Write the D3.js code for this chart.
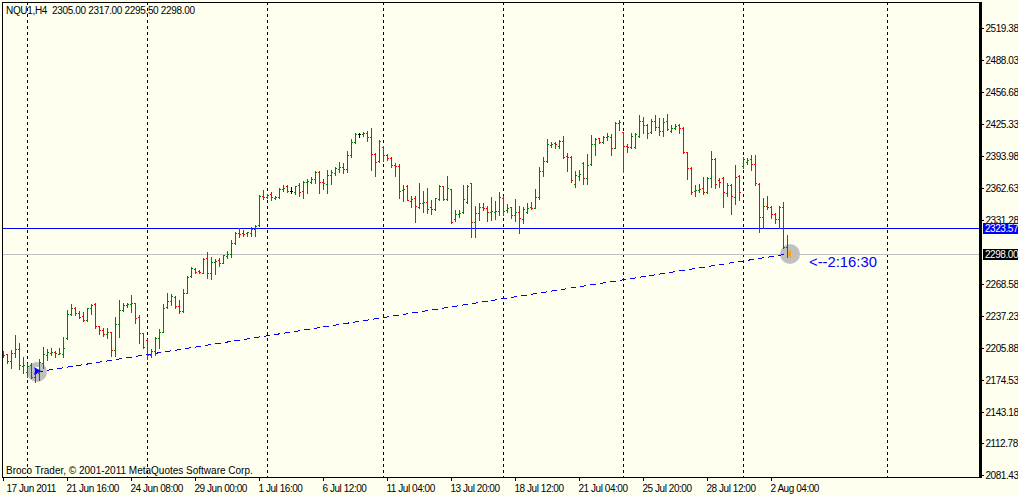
<!DOCTYPE html>
<html>
<head>
<meta charset="utf-8">
<script src="https://cdn.jsdelivr.net/npm/d3@7"></script>
<style>
  html, body { margin: 0; padding: 0; background: #fffff0; overflow: hidden; }
  svg { display: block; }
  text { font-family: "Liberation Sans", sans-serif; font-size: 10px; fill: #000; }
  .y-axis text, .x-axis text, .tag { letter-spacing: -0.45px; }
  .title { letter-spacing: -0.33px; white-space: pre; }
</style>
</head>
<body>
<div id="chart"></div>
<script>
///////////////////////////////// Data /////////////////////////////////
var symbolTitle = "NQU1,H4  2305.00 2317.00 2295.50 2298.00"
var copyright = "Broco Trader, \u00A9 2001-2011 MetaQuotes Software Corp."
var countdown = "<--2:16:30"

var opens = [
  2200,2200,2193.1,2201,2204.9,2188.2,2182.4,2189.2,2177.5,2181.4,
  2191.2,2199,2201,2202,2200,2200,2215.7,2239.2,2245.1,2240.2,
  2237.2,2233.3,2245.1,2249,2227.4,2223.5,2219.6,2221.6,2203.9,2229.4,
  2243.1,2248,2249,2250,2236.3,2220.6,2213.7,2199,2202.9,2215.7,
  2221.6,2246.1,2251.9,2255.9,2247,2242.1,2259.8,2276.4,2283.3,2281.3,
  2279.4,2294.1,2279.4,2290.2,2292.1,2289.2,2296,2298,2308.8,2318.6,
  2318.6,2318.6,2318.6,2322.5,2326.4,2354.8,2353.9,2356.8,2352.9,2353.9,
  2361.7,2364.6,2359.7,2358.8,2365.6,2359.7,2368.6,2368.6,2371.5,2378.4,
  2368.6,2366.6,2375.4,2377.4,2381.3,2383.3,2381.3,2395,2407.8,2415.6,
  2415.6,2416.6,2412.7,2396,2389.1,2402.9,2395,2392.1,2385.2,2384.2,
  2360.7,2364.6,2349.9,2352.9,2344.1,2348,2349,2344.1,2342.1,2351.9,
  2364.6,2351.9,2361.7,2332.3,2337.2,2339.2,2349,2367.6,2329.4,2338.2,
  2344.1,2343.1,2339.2,2339.2,2340.1,2352.9,2341.1,2344.1,2336.2,2339.2,
  2332.3,2339.2,2344.1,2343.1,2353.9,2379.3,2389.1,2404.8,2406.8,2403.8,
  2408.7,2394,2393.1,2366.6,2374.4,2387.2,2372.5,2386.2,2405.8,2411.7,
  2407.8,2412.7,2412.7,2401.9,2426.4,2417.6,2403.8,2402.9,2402.9,2413.6,
  2428.3,2424.4,2417.6,2428.3,2422.5,2418.5,2428.3,2418.5,2421.5,2424.4,
  2421.5,2398,2382.3,2359.7,2360.7,2362.7,2358.8,2372.5,2391.1,2370.5,
  2372.5,2357.8,2365.6,2353.9,2374.4,2384.2,2388.2,2391.1,2386.2,2366.6,
  2334.3,2345,2344.1,2337.2,2332.3,2344.1,2305
]
var highs = [
  2202.9,2200,2203.9,2218.6,2210.8,2197.1,2191.2,2191.2,2186.3,2195.1,
  2206.8,2204.9,2205.9,2202.9,2205.9,2216.7,2243.1,2249,2246.1,2242.1,
  2241.2,2245.1,2249,2250,2227.4,2225.5,2225.5,2221.6,2236.3,2252.9,
  2250,2250,2257.8,2250,2238.2,2220.6,2214.7,2204.9,2216.7,2224.5,
  2249,2259.8,2258.8,2256.8,2252.9,2263.7,2276.4,2285.3,2284.3,2282.3,
  2294.1,2299.9,2295.1,2293.1,2294.1,2297,2300.9,2311.7,2319.5,2323.5,
  2321.5,2319.5,2324.4,2326.4,2355.8,2360.7,2356.8,2358.8,2354.8,2362.7,
  2365.6,2365.6,2363.7,2364.6,2367.6,2369.5,2371.5,2373.5,2379.3,2379.3,
  2371.5,2380.3,2380.3,2383.3,2388.2,2387.2,2398.9,2410.7,2416.6,2416.6,
  2417.6,2418.5,2421.5,2397,2409.7,2403.8,2396,2393.1,2387.2,2386.2,
  2365.6,2365.6,2354.8,2354.8,2367.6,2359.7,2362.7,2350.9,2352.9,2365.6,
  2364.6,2374.4,2361.7,2341.1,2341.1,2365.6,2365.6,2367.6,2345,2348,
  2348,2345,2353.9,2349.9,2358.8,2354.8,2347,2344.1,2351.9,2345,
  2344.1,2348,2349,2361.7,2383.3,2393.1,2410.7,2407.8,2407.8,2409.7,
  2413.6,2397,2394,2379.3,2380.3,2388.2,2396,2414.6,2411.7,2411.7,
  2413.6,2416.6,2415.6,2427.4,2429.3,2417.6,2405.8,2416.6,2416.6,2434.2,
  2432.2,2425.4,2430.3,2434.2,2431.3,2431.3,2435.2,2424.4,2425.4,2425.4,
  2422.5,2398,2383.3,2365.6,2366.6,2373.5,2373.5,2398.9,2392.1,2372.5,
  2373.5,2367.6,2366.6,2385.2,2375.4,2393.1,2392.1,2395,2395,2367.6,
  2352.9,2354.8,2345,2338.2,2345,2349,2317
]
var lows = [
  2197.1,2191.2,2186.3,2197.1,2185.3,2181.4,2177.5,2176.5,2172.6,2174.5,
  2186.3,2194.1,2199,2197.1,2200,2197.1,2214.7,2238.2,2238.2,2235.3,
  2232.3,2232.3,2239.2,2225.5,2219.6,2217.6,2215.7,2198,2198,2216.7,
  2242.1,2246.1,2241.2,2230.4,2210.8,2205.9,2195.1,2197.1,2199,2205.9,
  2221.6,2245.1,2248,2245.1,2240.2,2241.2,2259.8,2275.5,2279.4,2279.4,
  2279.4,2274.5,2273.5,2278.4,2286.2,2289.2,2294.1,2295.1,2307.8,2314.6,
  2315.6,2315.6,2315.6,2315.6,2325.4,2351.9,2352.9,2350.9,2351.9,2352.9,
  2359.7,2358.8,2357.8,2356.8,2354.8,2352.9,2357.8,2367.6,2367.6,2357.8,
  2361.7,2357.8,2366.6,2375.4,2378.4,2377.4,2378.4,2393.1,2406.8,2412.7,
  2413.6,2408.7,2380.3,2374.4,2388.2,2389.1,2390.1,2383.3,2374.4,2352.9,
  2349.9,2350.9,2344.1,2329.4,2343.1,2339.2,2338.2,2337.2,2341.1,2350.9,
  2350.9,2350.9,2328.4,2330.3,2334.3,2338.2,2348,2314.6,2314.6,2331.3,
  2341.1,2330.3,2331.3,2332.3,2336.2,2336.2,2339.2,2333.3,2330.3,2318.6,
  2328.4,2338.2,2342.1,2343.1,2351.9,2374.4,2388.2,2402.9,2401.9,2401.9,
  2392.1,2379.3,2368.6,2363.7,2370.5,2366.6,2366.6,2385.2,2395,2406.8,
  2406.8,2409.7,2395,2401.9,2419.5,2378.4,2398,2401.9,2401.9,2412.7,
  2416.6,2411.7,2416.6,2419.5,2414.6,2413.6,2419.5,2417.6,2420.5,2416.6,
  2397,2371.5,2356.8,2354.8,2358.8,2356.8,2357.8,2363.7,2362.7,2363.7,
  2344.1,2354.8,2337.2,2347,2350.9,2382.3,2386.2,2380.3,2365.6,2319.5,
  2323.5,2342.1,2333.3,2328.4,2323.5,2303.9,2295.5
]
var closes = [
  2199,2193.1,2201,2204.9,2189.2,2189.2,2188.2,2177.5,2181.4,2192.2,
  2200,2202,2202,2201,2201,2205.9,2239.2,2245.1,2240.2,2236.3,
  2233.3,2245.1,2248,2227.4,2223.5,2219.6,2221.6,2203.9,2229.4,2243.1,
  2248,2249,2250,2235.3,2220.6,2206.8,2199,2202.9,2215.7,2221.6,
  2245.1,2251.9,2256.8,2247,2242.1,2259.8,2275.5,2284.3,2280.4,2280.4,
  2293.1,2279.4,2290.2,2291.1,2289.2,2297,2298,2308.8,2318.6,2317.6,
  2317.6,2319.5,2322.5,2325.4,2354.8,2353.9,2355.8,2353.9,2353.9,2361.7,
  2362.7,2359.7,2359.7,2364.6,2358.8,2368.6,2369.5,2371.5,2378.4,2368.6,
  2367.6,2375.4,2378.4,2382.3,2383.3,2381.3,2395,2407.8,2415.6,2415.6,
  2416.6,2412.7,2396,2388.2,2408.7,2395,2392.1,2385.2,2384.2,2359.7,
  2361.7,2350.9,2351.9,2345,2348,2349,2342.1,2342.1,2352.9,2364.6,
  2351.9,2362.7,2329.4,2337.2,2338.2,2351.9,2364.6,2329.4,2338.2,2344.1,
  2343.1,2339.2,2340.1,2340.1,2353.9,2340.1,2343.1,2336.2,2339.2,2333.3,
  2342.1,2343.1,2343.1,2353.9,2379.3,2389.1,2405.8,2405.8,2405.8,2408.7,
  2393.1,2393.1,2370.5,2375.4,2376.4,2372.5,2385.2,2405.8,2410.7,2407.8,
  2412.7,2413.6,2401.9,2426.4,2427.4,2403.8,2402.9,2413.6,2415.6,2428.3,
  2424.4,2416.6,2428.3,2422.5,2418.5,2427.4,2420.5,2421.5,2423.4,2421.5,
  2398,2382.3,2358.8,2360.7,2361.7,2358.8,2372.5,2391.1,2366.6,2368.6,
  2358.8,2365.6,2354.8,2373.5,2358.8,2391.1,2390.1,2386.2,2367.6,2334.3,
  2345,2344.1,2337.2,2332.3,2344.1,2304.8,2298
]

var timeLabels = ["17 Jun 2011","21 Jun 16:00","24 Jun 08:00","29 Jun 00:00","1 Jul 16:00","6 Jul 12:00",
  "11 Jul 04:00","13 Jul 20:00","18 Jul 12:00","21 Jul 04:00","25 Jul 20:00","28 Jul 12:00","2 Aug 04:00"]
var timeTickBars = [0,16,32,48,64,80,96,112,128,144,160,176,192]
// 2299.93 is left out, the 2298.00 tag covers it in the picture
var priceTicks = [2519.38,2488.03,2456.68,2425.33,2393.98,2362.63,2331.28,2268.58,2237.23,2205.88,2174.53,2143.18,2112.78,2081.43]
var weekBars = [6,36,66,95,125,155,185,221]   // period separators, bar 221 is in the future
var supportPrice = 2323.57
var lastPrice = 2298
var trendBars = [8.5,196.25]
var trendPrices = [2182.4,2298]

///////////////////////////////// Setup /////////////////////////////////
var width = 1018, height = 495
var plot = { left: 2, top: 2, right: 980, bottom: 477 }
var BLUE = "#0000ff"

var xScale = d3.scaleLinear().domain([0, 196]).range([3, 787])
var yScale = d3.scaleLinear().domain([2081.43, 2519.38]).range([475, 28])

var svg = d3.select("#chart").append("svg")
  .attr("width", width)
  .attr("height", height)

// draw order: separators, discs, lines and bars, arrows, frame, texts
var sepG = svg.append("g").attr("shape-rendering", "crispEdges")
var discG = svg.append("g")
var crisp = svg.append("g").attr("shape-rendering", "crispEdges")

sepG.selectAll(".sep").data(weekBars).enter().append("line")
  .attr("class", "sep")
  .attr("x1", d => xScale(d) + 0.5).attr("x2", d => xScale(d) + 0.5)
  .attr("y1", plot.top).attr("y2", plot.bottom)
  .attr("stroke", "#000")
  .attr("stroke-dasharray", "3,3")

discG.append("circle")
  .attr("cx", xScale(trendBars[0])).attr("cy", yScale(trendPrices[0]))
  .attr("r", 10).attr("fill", "#c0c0c0")
discG.append("circle")
  .attr("cx", xScale(trendBars[1]) + 2).attr("cy", yScale(trendPrices[1]))
  .attr("r", 10).attr("fill", "#c0c0c0")

// horizontal lines
crisp.append("line")
  .attr("x1", plot.left).attr("x2", plot.right)
  .attr("y1", Math.round(yScale(lastPrice)) + 0.5).attr("y2", Math.round(yScale(lastPrice)) + 0.5)
  .attr("stroke", "#c0c0c0")
crisp.append("line")
  .attr("x1", plot.left).attr("x2", plot.right)
  .attr("y1", Math.round(yScale(supportPrice)) + 0.5).attr("y2", Math.round(yScale(supportPrice)) + 0.5)
  .attr("stroke", BLUE)

// trend line between the two markers
crisp.append("line")
  .attr("x1", xScale(trendBars[0])).attr("y1", yScale(trendPrices[0]))
  .attr("x2", xScale(trendBars[1])).attr("y2", yScale(trendPrices[1]))
  .attr("stroke", BLUE)
  .attr("stroke-dasharray", "6,4")

//////////////////// OHLC bars ///////////////////
var bars = d3.range(opens.length).map(i => ({
  i: i, o: opens[i], h: highs[i], l: lows[i], c: closes[i],
  color: closes[i] > opens[i] ? "#008000" : closes[i] < opens[i] ? "#ff0000" : "#000"
}))

function py(v) { return Math.round(yScale(v)) + 0.5 }

var barG = crisp.selectAll(".bar").data(bars).enter().append("g")
  .attr("class", "bar")
  .attr("stroke", d => d.color)
barG.append("line")
  .attr("x1", d => xScale(d.i) + 0.5).attr("x2", d => xScale(d.i) + 0.5)
  .attr("y1", d => py(d.h) - 0.5).attr("y2", d => py(d.l) + 0.5)
barG.append("line")
  .attr("x1", d => xScale(d.i) - 1).attr("x2", d => xScale(d.i))
  .attr("y1", d => py(d.o)).attr("y2", d => py(d.o))
barG.append("line")
  .attr("x1", d => xScale(d.i) + 1).attr("x2", d => xScale(d.i) + 2)
  .attr("y1", d => py(d.c)).attr("y2", d => py(d.c))

//////////////////// start and end arrows ///////////////////
var ax = xScale(trendBars[0]), ay = yScale(trendPrices[0])
svg.append("rect").attr("x", ax - 3).attr("y", ay - 5).attr("width", 5).attr("height", 3).attr("fill", "#fff")
svg.append("path")
  .attr("d", "M" + (ax - 3) + "," + (ay - 5) + "l1,4l-1,4l7,-4z")
  .attr("fill", BLUE)
var ex = xScale(trendBars[1]) + 1, ey = yScale(trendPrices[1])
svg.append("path")
  .attr("d", "M" + (ex + 2) + "," + (ey - 4.5) + "l0,9l-3.5,-4.5z")
  .attr("fill", "#ffa500")

//////////////////// frame and axes ///////////////////
crisp.append("rect")
  .attr("x", plot.left + 0.5).attr("y", plot.top + 0.5)
  .attr("width", plot.right - plot.left).attr("height", plot.bottom - plot.top)
  .attr("fill", "none").attr("stroke", "#000")
crisp.append("rect")
  .attr("x", plot.right - 1).attr("y", plot.top)
  .attr("width", 3).attr("height", plot.bottom - plot.top + 1)
  .attr("fill", "#000")

var yAxis = d3.axisRight(yScale)
  .tickValues(priceTicks)
  .tickFormat(d3.format(".2f"))
  .tickSize(2)
  .tickPadding(1.5)
var yG = svg.append("g").attr("class", "y-axis")
  .attr("transform", "translate(" + (plot.right + 2) + ",0)")
  .call(yAxis)
yG.select(".domain").remove()
yG.attr("font-family", null).attr("font-size", null)
yG.selectAll("line").attr("shape-rendering", "crispEdges")

var xAxis = d3.axisBottom(xScale)
  .tickValues(timeTickBars)
  .tickFormat((d, i) => timeLabels[i])
  .tickSize(4)
  .tickPadding(3.5)
var xG = svg.append("g").attr("class", "x-axis")
  .attr("transform", "translate(0," + plot.bottom + ")")
  .call(xAxis)
xG.select(".domain").remove()
xG.attr("font-family", null).attr("font-size", null)
xG.selectAll("line").attr("shape-rendering", "crispEdges")
xG.selectAll("text").attr("text-anchor", "start").attr("x", (d, i) => i == 0 ? 3 : -1)

//////////////////// price tags ///////////////////
function priceTag(price, color) {
  var y = Math.round(yScale(price))
  svg.append("rect")
    .attr("x", plot.right + 3).attr("y", y - 5)
    .attr("width", width - plot.right - 3).attr("height", 11)
    .attr("fill", color)
  svg.append("text")
    .attr("class", "tag")
    .attr("x", plot.right + 5).attr("y", y + 4)
    .style("fill", "#fff")
    .text(d3.format(".2f")(price))
}
priceTag(supportPrice, BLUE)
priceTag(lastPrice, "#000")

//////////////////// texts ///////////////////
svg.append("text").attr("class", "title").attr("x", 6).attr("y", 14).text(symbolTitle)
svg.append("text").attr("x", 6).attr("y", 474).text(copyright)
svg.append("text")
  .attr("x", xScale(trendBars[1]) + 21).attr("y", yScale(lastPrice) + 13)
  .style("font-size", "14.8px").style("fill", BLUE)
  .text(countdown)
</script>
</body>
</html>
